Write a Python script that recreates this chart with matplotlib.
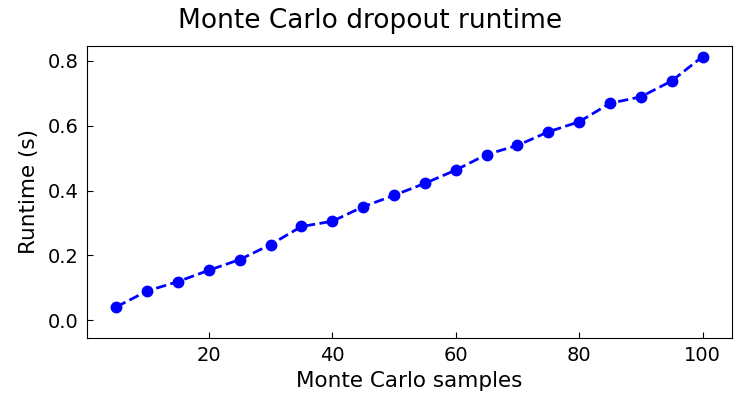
import matplotlib
matplotlib.use("Agg")
import matplotlib.pyplot as plt

samples = [5, 10, 15, 20, 25, 30, 35, 40, 45, 50, 55, 60, 65, 70, 75, 80, 85, 90, 95, 100]
runtime = [0.041, 0.090, 0.119, 0.154, 0.187, 0.233, 0.289, 0.305, 0.350, 0.385,
           0.422, 0.463, 0.511, 0.539, 0.581, 0.612, 0.669, 0.689, 0.738, 0.813]

fig = plt.figure(figsize=(7.4, 3.96), dpi=100)
ax = fig.add_axes([0.1176, 0.1465, 0.989 - 0.1176, 0.884 - 0.1465])
ax.plot(samples, runtime, 'o--', color='blue', linewidth=2, markersize=7.5)
ax.set_ylim(-0.055, 0.846)
ax.set_xticks([20, 40, 60, 80, 100])
ax.set_yticks([0.0, 0.2, 0.4, 0.6, 0.8])
ax.tick_params(direction='in', labelsize=14, length=4.5, pad=6)
ax.set_xlabel('Monte Carlo samples', fontsize=15.5, labelpad=4)
ax.set_ylabel('Runtime (s)', fontsize=15.5, labelpad=6)
fig.suptitle('Monte Carlo dropout runtime', fontsize=19, y=0.98)
fig.savefig('out.png', dpi=100)
